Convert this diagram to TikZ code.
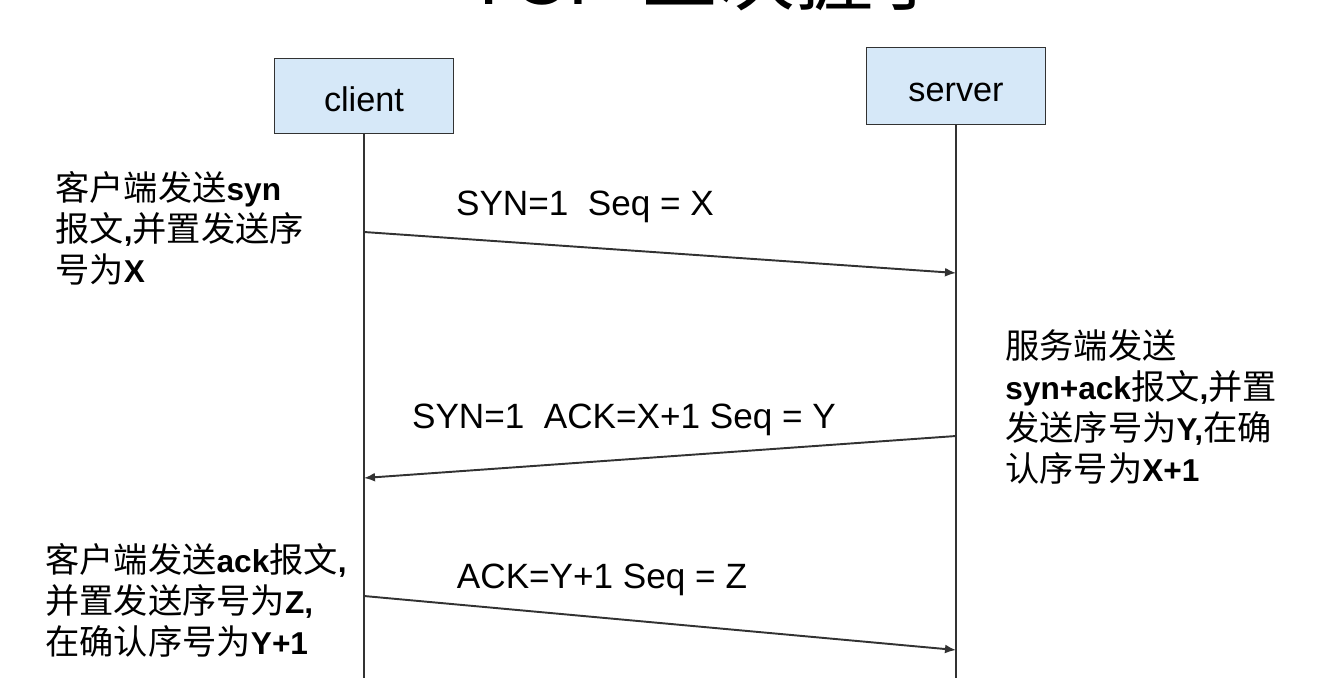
\documentclass[tikz,border=0pt]{standalone}
\usepackage{fontspec}
\setmainfont{Liberation Sans}
\newfontfamily\cjk{Noto Sans CJK SC}
\newcommand{\zh}[1]{{\cjk\fontsize{19.5}{23.3}\selectfont #1}}
\usetikzlibrary{arrows.meta}
\definecolor{boxblue}{RGB}{214,232,248}
\definecolor{linegray}{RGB}{50,50,50}

\begin{document}
\begin{tikzpicture}[x=0.02cm, y=-0.02cm,
    hostbox/.style={draw=linegray, fill=boxblue, line width=1pt, minimum width=3.58cm, minimum height=1.5cm, text height=0.61cm, text depth=0pt, font=\fontsize{19.5}{23}\selectfont},
    lifeline/.style={draw=linegray, line width=1.1pt},
    msg/.style={draw=linegray, line width=1.1pt, -{Latex[length=0.22cm, width=0.18cm]}},
    msglabel/.style={font=\fontsize{20}{24}\selectfont, inner sep=0pt},
    note/.style={align=left, anchor=west, inner sep=0pt, font=\fontsize{18}{23.3}\selectfont}]
          \useasboundingbox (0,0) rectangle (1329,677);

          \node [anchor=base west, inner sep=0pt, font=\fontsize{44}{50}\selectfont] (title) at (465,4) {TCP \zh{\fontsize{44}{50}\selectfont 三次握手}}; % cut at the top

          \node [hostbox] (client) at (364,96) {client}; % Draws a box
          \node [hostbox, minimum height=1.54cm] (server) at (956,86) {server}; % Draws a box

          \coordinate (cend) at (364,690);
          \coordinate (send) at (956,690);
          \draw [lifeline] (client.south) -- (cend);
          \draw [lifeline] (server.south) -- (send);

          \coordinate (c1) at (364,232);
          \coordinate (s1) at (956,273);
          \coordinate (s2) at (956,436);
          \coordinate (c2) at (364,478);
          \coordinate (c3) at (364,596);
          \coordinate (s3) at (956,650);

          \draw [msg] (c1) -- (s1);
          \draw [msg] (s2) -- (c2);
          \draw [msg] (c3) -- (s3);

          \node [msglabel] (syn) at (585,207) {SYN=1\ \ Seq = X};
          \node [msglabel] (synack) at (624,420) {SYN=1\ \ ACK=X+1 Seq = Y};
          \node [msglabel] (ack) at (602,580) {ACK=Y+1 Seq = Z};

          \node [note] (note1) at (55,228) {\zh{客户端发送}\textbf{syn}\\\zh{报文}\textbf{,}\zh{并置发送序}\\\zh{号为}\textbf{X}};
          \node [note] (note2) at (1005,407) {\zh{服务端发送}\\\textbf{syn+ack}\zh{报文}\textbf{,}\zh{并置}\\\zh{发送序号为}\textbf{Y,}\zh{在确}\\\zh{认序号为}\textbf{X+1}};
          \node [note] (note3) at (45,600) {\zh{客户端发送}\textbf{ack}\zh{报文}\textbf{,}\\\zh{并置发送序号为}\textbf{Z,}\\\zh{在确认序号为}\textbf{Y+1}};
\end{tikzpicture}
\end{document}
